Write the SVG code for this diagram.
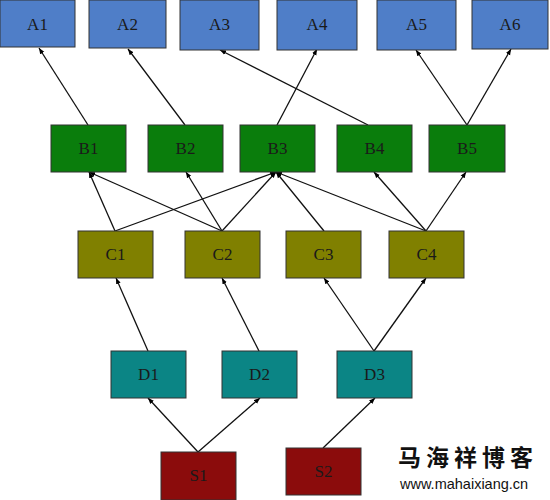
<svg xmlns="http://www.w3.org/2000/svg" width="550" height="500" viewBox="0 0 550 500">
<defs>
<marker id="ah" viewBox="0 0 10 10" refX="10" refY="5" markerWidth="6" markerHeight="6" orient="auto" markerUnits="userSpaceOnUse">
<path d="M0,1 L10,5 L0,9 z" fill="#000"/>
</marker>
<style>
.n rect{stroke:#333;stroke-width:1}
.a rect{fill:#4f7ec8}
.b rect{fill:#0a7d0c}
.c rect{fill:#808000}
.d rect{fill:#0b8585}
.s rect{fill:#8b0c0c}
.n text{font-family:"Liberation Serif","Times New Roman",serif;font-size:17px;fill:#1a1a1a;text-anchor:middle}
#edges line{stroke:#111;stroke-width:1.3;marker-end:url(#ah)}
.wm1{font-family:"Noto Sans CJK SC",sans-serif;font-size:23px;font-weight:bold;fill:#111;letter-spacing:5px}
.wm2{font-family:"Liberation Sans",Arial,sans-serif;font-size:14.5px;fill:#111}
</style>
</defs>
<rect width="550" height="500" fill="#fff"/>
<g id="edges">
<line x1="88" y1="125" x2="39" y2="48"/>
<line x1="185" y1="125" x2="128" y2="49"/>
<line x1="368" y1="125" x2="220" y2="50"/>
<line x1="277" y1="125" x2="317" y2="49"/>
<line x1="467" y1="125" x2="416" y2="50"/>
<line x1="467" y1="125" x2="511" y2="49"/>
<line x1="115" y1="231" x2="89" y2="172"/>
<line x1="115" y1="231" x2="276" y2="172"/>
<line x1="222" y1="231" x2="89" y2="172"/>
<line x1="222" y1="231" x2="186" y2="172"/>
<line x1="222" y1="231" x2="276" y2="172"/>
<line x1="324" y1="231" x2="276" y2="172"/>
<line x1="426" y1="231" x2="276" y2="172"/>
<line x1="426" y1="231" x2="374" y2="172"/>
<line x1="426" y1="231" x2="466" y2="172"/>
<line x1="148" y1="351" x2="116" y2="278"/>
<line x1="259" y1="351" x2="222" y2="278"/>
<line x1="374" y1="351" x2="324" y2="278"/>
<line x1="374" y1="351" x2="426" y2="278"/>
<line x1="198" y1="452" x2="148" y2="398"/>
<line x1="198" y1="452" x2="260" y2="398"/>
<line x1="323" y1="448" x2="375" y2="398"/>
</g>
<g id="A1" class="n a"><rect x="0" y="0" width="75" height="47"/><text x="37.5" y="30">A1</text></g>
<g id="A2" class="n a"><rect x="89" y="0" width="77" height="48"/><text x="127.5" y="30">A2</text></g>
<g id="A3" class="n a"><rect x="180" y="0" width="79" height="50"/><text x="219.5" y="30">A3</text></g>
<g id="A4" class="n a"><rect x="277" y="0" width="80" height="50"/><text x="317" y="30">A4</text></g>
<g id="A5" class="n a"><rect x="377" y="0" width="79" height="50"/><text x="416.5" y="30">A5</text></g>
<g id="A6" class="n a"><rect x="472" y="0" width="76" height="49"/><text x="510" y="30">A6</text></g>
<g id="B1" class="n b"><rect x="51" y="125" width="75" height="47"/><text x="88.5" y="154">B1</text></g>
<g id="B2" class="n b"><rect x="148" y="125" width="75" height="47"/><text x="185.5" y="154">B2</text></g>
<g id="B3" class="n b"><rect x="240" y="125" width="75" height="47"/><text x="277.5" y="154">B3</text></g>
<g id="B4" class="n b"><rect x="337" y="125" width="75" height="47"/><text x="374.5" y="154">B4</text></g>
<g id="B5" class="n b"><rect x="429" y="125" width="76" height="47"/><text x="467" y="154">B5</text></g>
<g id="C1" class="n c"><rect x="78" y="231" width="75" height="47"/><text x="115.5" y="260">C1</text></g>
<g id="C2" class="n c"><rect x="185" y="231" width="75" height="47"/><text x="222.5" y="260">C2</text></g>
<g id="C3" class="n c"><rect x="286" y="231" width="75" height="47"/><text x="323.5" y="260">C3</text></g>
<g id="C4" class="n c"><rect x="389" y="231" width="75" height="47"/><text x="426.5" y="260">C4</text></g>
<g id="D1" class="n d"><rect x="111" y="351" width="75" height="47"/><text x="148.5" y="380">D1</text></g>
<g id="D2" class="n d"><rect x="222" y="351" width="75" height="47"/><text x="259.5" y="380">D2</text></g>
<g id="D3" class="n d"><rect x="337" y="351" width="75" height="47"/><text x="374.5" y="380">D3</text></g>
<g id="S1" class="n s"><rect x="161" y="452" width="75" height="48"/><text x="198.5" y="481">S1</text></g>
<g id="S2" class="n s"><rect x="286" y="448" width="75" height="47"/><text x="323.5" y="477">S2</text></g>
<g id="watermark">
<text class="wm1" x="398" y="466">马海祥博客</text>
<text class="wm2" x="400" y="489">www.mahaixiang.cn</text>
</g>
</svg>
